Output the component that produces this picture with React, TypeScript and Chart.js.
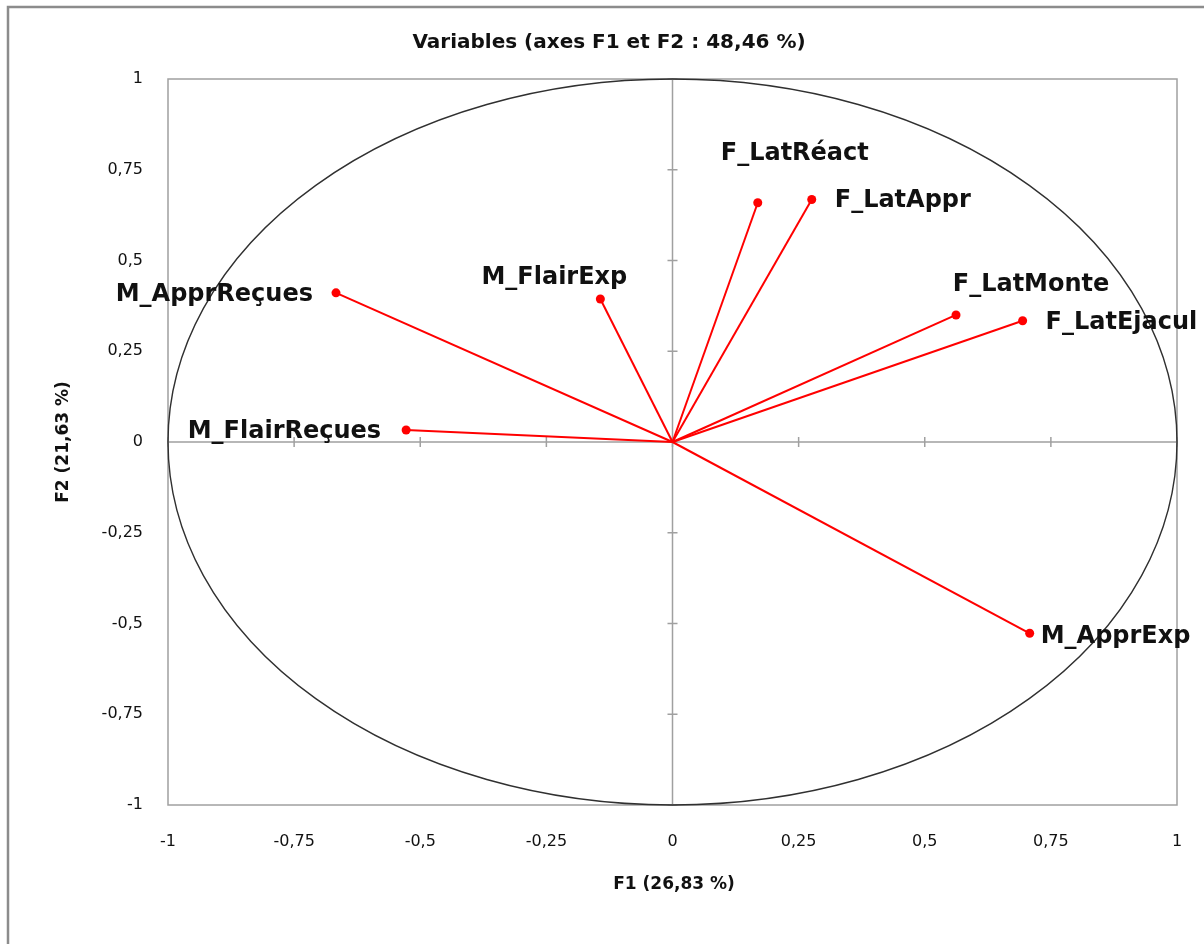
import React, { useEffect, useRef } from "react";
import { Chart, registerables } from "chart.js";

Chart.register(...registerables);

const chartTitle = "Variables (axes F1 et F2 : 48,46 %)";
const xAxisTitle = "F1 (26,83 %)";
const yAxisTitle = "F2 (21,63 %)";

const variableNames = [
  "M_ApprReçues",
  "M_FlairExp",
  "F_LatRéact",
  "F_LatAppr",
  "F_LatMonte",
  "F_LatEjacul",
  "M_FlairReçues",
  "M_ApprExp",
];
const f1Values = [-0.667, -0.143, 0.169, 0.276, 0.562, 0.694, -0.528, 0.708];
const f2Values = [0.411, 0.394, 0.659, 0.668, 0.350, 0.334, 0.033, -0.527];

const axisMin = -1;
const axisMax = 1;
const tickStep = 0.25;

// label placement relative to each point: [textAlign, dx, dy]
const labelPlacement: [CanvasTextAlign, number, number][] = [
  ["right", -23, 2],
  ["center", -46, -21],
  ["center", 37, -49],
  ["left", 23, 1],
  ["center", 75, -30],
  ["left", 23, 2],
  ["right", -25, 2],
  ["left", 11, 3],
];

const FONT = "'DejaVu Sans', sans-serif";

const fmt = (v: number) => {
  const r = Math.round(v * 100) / 100;
  return String(r).replace(".", ",");
};

const decorPlugin = {
  id: "decor",
  beforeDatasetsDraw(chart: any) {
    const { ctx, chartArea, scales } = chart;
    const xs = scales.x;
    const ys = scales.y;
    ctx.save();
    // outer frame
    ctx.strokeStyle = "#8c8c8c";
    ctx.lineWidth = 2.5;
    ctx.beginPath();
    ctx.moveTo(8, 960);
    ctx.lineTo(8, 7);
    ctx.lineTo(1220, 7);
    ctx.stroke();

    // plot frame
    ctx.strokeStyle = "#a0a0a0";
    ctx.lineWidth = 1.5;
    ctx.strokeRect(chartArea.left, chartArea.top, chartArea.right - chartArea.left, chartArea.bottom - chartArea.top);

    const x0 = xs.getPixelForValue(0);
    const y0 = ys.getPixelForValue(0);
    // zero axes
    ctx.beginPath();
    ctx.moveTo(x0, chartArea.top);
    ctx.lineTo(x0, chartArea.bottom);
    ctx.moveTo(chartArea.left, y0);
    ctx.lineTo(chartArea.right, y0);
    ctx.stroke();
    // tick marks on zero axes
    ctx.beginPath();
    for (let v = axisMin; v <= axisMax + 1e-9; v += tickStep) {
      const px = xs.getPixelForValue(v);
      ctx.moveTo(px, y0 - 5);
      ctx.lineTo(px, y0 + 5);
      const py = ys.getPixelForValue(v);
      ctx.moveTo(x0 - 5, py);
      ctx.lineTo(x0 + 5, py);
    }
    ctx.stroke();

    // correlation circle
    const rx = xs.getPixelForValue(1) - x0;
    const ry = y0 - ys.getPixelForValue(1);
    ctx.strokeStyle = "#303030";
    ctx.lineWidth = 1.4;
    ctx.beginPath();
    ctx.ellipse(x0, y0, rx, ry, 0, 0, Math.PI * 2);
    ctx.stroke();

    // titles
    ctx.fillStyle = "#111";
    ctx.textAlign = "center";
    ctx.textBaseline = "middle";
    ctx.font = `bold 20px ${FONT}`;
    ctx.fillText(chartTitle, 609, 43);
    ctx.font = `bold 17px ${FONT}`;
    ctx.fillText(xAxisTitle, 674, 885);
    ctx.save();
    ctx.translate(64, y0);
    ctx.rotate(-Math.PI / 2);
    ctx.fillText(yAxisTitle, 0, 0);
    ctx.restore();
    ctx.restore();
  },
  afterDatasetsDraw(chart: any) {
    const { ctx, scales } = chart;
    ctx.save();
    ctx.fillStyle = "#111";
    ctx.textBaseline = "middle";
    ctx.font = `bold 24px ${FONT}`;
    variableNames.forEach((name, i) => {
      const px = scales.x.getPixelForValue(f1Values[i]);
      const py = scales.y.getPixelForValue(f2Values[i]);
      const [align, dx, dy] = labelPlacement[i];
      ctx.textAlign = align;
      ctx.fillText(name, px + dx, py + dy);
    });
    ctx.restore();
  },
};

export default function App() {
  const ref = useRef<HTMLCanvasElement>(null);
  useEffect(() => {
    if (!ref.current) return;
    const datasets = variableNames.map((name, i) => ({
      label: name,
      data: [
        { x: 0, y: 0 },
        { x: f1Values[i], y: f2Values[i] },
      ],
      showLine: true,
      borderColor: "#ff0000",
      borderWidth: 2,
      pointRadius: [0, 4.5],
      pointBackgroundColor: "#ff0000",
      pointBorderWidth: 0,
    }));
    const chart = new Chart(ref.current, {
      type: "scatter",
      data: { datasets },
      options: {
        animation: false,
        responsive: false,
        devicePixelRatio: 1,
        layout: { padding: { top: 79, right: 27, left: 0, bottom: 0 } },
        plugins: { legend: { display: false }, tooltip: { enabled: false }, title: { display: false } },
        scales: {
          x: {
            type: "linear",
            min: axisMin,
            max: axisMax,
            grid: { display: false, drawTicks: false },
            border: { display: false },
            ticks: {
              stepSize: tickStep,
              padding: 4,
              color: "#111",
              font: { family: FONT, size: 16, lineHeight: "66px" },
              callback: (v: any) => fmt(Number(v)),
              maxRotation: 0,
            },
            afterFit: (s: any) => { s.height = 139; },
          },
          y: {
            type: "linear",
            min: axisMin,
            max: axisMax,
            grid: { display: false, drawTicks: false },
            border: { display: false },
            ticks: { stepSize: tickStep, padding: 25, color: "#111", font: { family: FONT, size: 16 }, callback: (v: any) => fmt(Number(v)) },
            afterFit: (s: any) => { s.width = 168; },
          },
        },
      },
      plugins: [decorPlugin],
    });
    return () => chart.destroy();
  }, []);
  return (
    <div style={{ position: "fixed", left: 0, top: 0, width: 1204, height: 944, background: "#fff" }}>
      <canvas ref={ref} width={1204} height={944} style={{ display: "block" }} />
    </div>
  );
}
